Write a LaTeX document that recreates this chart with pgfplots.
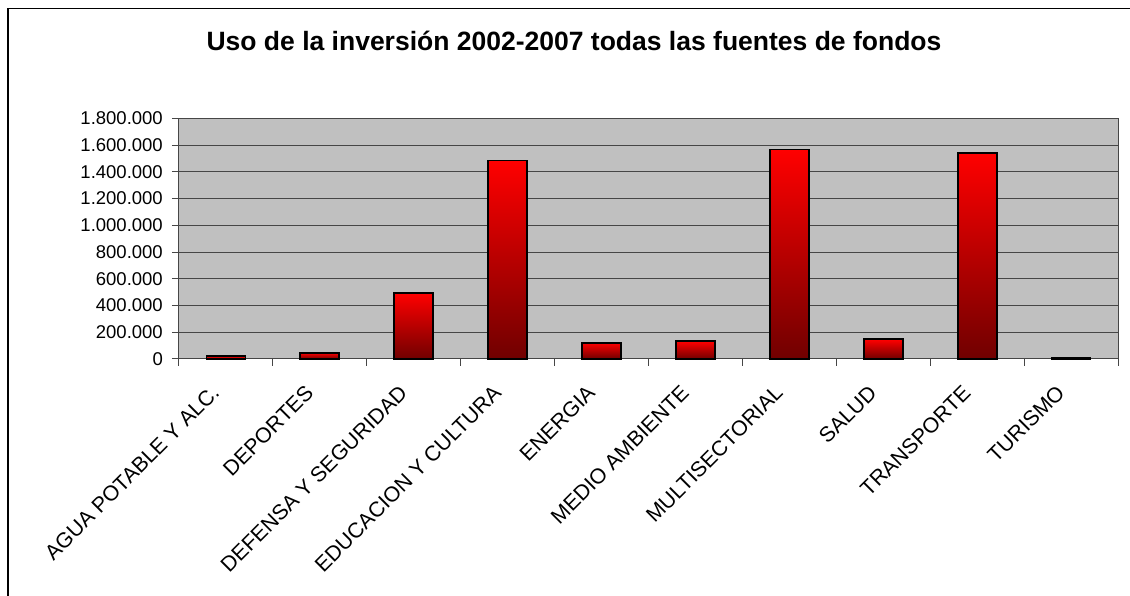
\documentclass[border=0pt]{standalone}
\usepackage{pgfplots}
\pgfplotsset{compat=1.18}
\usepackage{fontspec}
\setmainfont{Liberation Sans}
\definecolor{plotbg}{RGB}{192,192,192}
\definecolor{barbottom}{RGB}{112,0,0}
\definecolor{gridc}{RGB}{70,70,70}
\begin{document}
\begin{tikzpicture}[x=1pt,y=1pt]
\useasboundingbox (0,0) rectangle (1130,596);
\fill[white] (0,0) rectangle (1130,596);
\draw[line width=1.5pt] (8,-5) -- (8,587.5) -- (1135,587.5);
\node[anchor=base, inner sep=0pt, font=\fontsize{26.5}{31}\selectfont\bfseries] at (574,545) {Uso de la inversión 2002-2007 todas las fuentes de fondos};
\begin{axis}[
  at={(179pt,237pt)}, anchor=south west,
  scale only axis, width=939pt, height=240.7pt,
  xmin=-0.5, xmax=9.5, ymin=0, ymax=1800000,
  axis background/.style={fill=plotbg},
  axis line style={draw=gridc, line width=1pt},
  ytick={0,200000,...,1800000},
  ymajorgrids, grid style={draw=gridc, line width=1pt},
  xtick={0,...,9},
  xticklabels={AGUA POTABLE Y ALC., DEPORTES, DEFENSA Y SEGURIDAD, EDUCACION Y CULTURA, ENERGIA, MEDIO AMBIENTE, MULTISECTORIAL, SALUD, TRANSPORTE, TURISMO},
  minor xtick={-0.5,0.5,...,9.5},
  major x tick style={draw=none},
  tick style={draw=gridc, line width=1pt},
  tick align=outside, tick pos=left,
  major tick length=7pt, minor tick length=7pt,
  scaled y ticks=false,
  yticklabel style={font=\fontsize{18.5}{21}\selectfont, inner sep=0pt, xshift=-9pt, /pgf/number format/.cd, fixed, 1000 sep={.}, assume math mode=true},
  xticklabel style={font=\fontsize{21.3}{24}\selectfont, inner sep=0pt, anchor=north east, xshift=-15.8pt, yshift=-17.7pt, rotate=45},
  clip=false,
  redbar/.style={ybar, bar width=0.415, draw=black, line width=1.8pt, top color=red, bottom color=barbottom},
]
\addplot[redbar] coordinates {(0,20000)};
\addplot[redbar] coordinates {(1,47000)};
\addplot[redbar] coordinates {(2,493000)};
\addplot[redbar] coordinates {(3,1484000)};
\addplot[redbar] coordinates {(4,122000)};
\addplot[redbar] coordinates {(5,135000)};
\addplot[redbar] coordinates {(6,1566000)};
\addplot[redbar] coordinates {(7,147000)};
\addplot[redbar] coordinates {(8,1541000)};
\addplot[redbar] coordinates {(9,5000)};
\end{axis}
\end{tikzpicture}
\end{document}
